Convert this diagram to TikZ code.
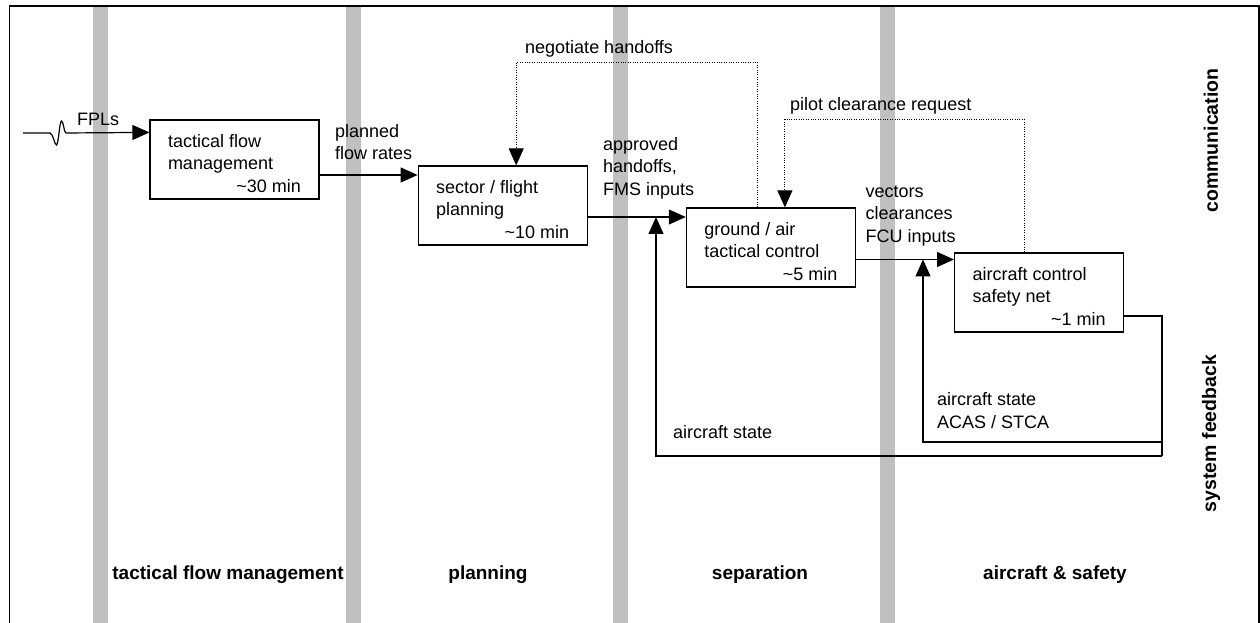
\documentclass[tikz,border=0pt]{standalone}
\usepackage{fontspec}
\setmainfont{Liberation Sans}
\usepackage{tikz}
\usetikzlibrary{arrows.meta}
\usetikzlibrary{calc}
\usetikzlibrary{positioning}

\definecolor{lanegray}{RGB}{192,192,192}
\newcommand{\boxtext}[3]{\parbox[c][79pt][t]{133pt}{\rule{0pt}{27.3pt}#1\\#2\\\hspace*{\fill}\textasciitilde#3 min}}

\begin{document}
\begin{tikzpicture}[x=1pt,y=1pt,
	stage/.style={draw,line width=1.2pt,inner sep=0pt,minimum width=169pt,minimum height=79pt,font=\fontsize{18}{22.7}\selectfont},
	note/.style={font=\fontsize{18}{22.7}\selectfont,align=left,inner sep=0pt},
	flow/.style={line width=1.2pt,-{Triangle[length=17pt,width=15pt]}},
	talk/.style={line width=0.9pt,dash pattern=on 1pt off 1.4pt,-{Triangle[length=17pt,width=15pt]}},
	lane/.style={font=\fontsize{19}{22}\selectfont\bfseries,inner sep=0pt},
	side/.style={font=\fontsize{19.5}{22}\selectfont\bfseries,rotate=90,inner sep=0pt}]
			\useasboundingbox (0,0) rectangle (1260,623);
			%gray lanes and frame
			\foreach \x in {100.5,353.5,620.5,887.5}
				\fill[lanegray] (\x-7.5,0) rectangle (\x+7.5,617);
			\draw[line width=1.4pt] (9.5,0) |- (1259,617) -- (1259,0);
			%stages
			\node[stage] (tfm) at (234.5,463.5) {\boxtext{tactical flow}{management}{30}};
			\node[stage,right=98pt of tfm,yshift=-46pt] (sector) {\boxtext{sector / flight}{planning}{10}};
			\node[stage,right=98pt of sector,yshift=-42pt] (ground) {\boxtext{ground / air}{tactical control}{5}};
			\node[stage,right=98pt of ground,yshift=-45pt] (aircraft) {\boxtext{aircraft control}{safety net}{1}};
			%forward flow
			\coordinate (fplsrc) at (23,490);
			\coordinate (fplin) at ([yshift=-13pt]tfm.north west);
			\draw[flow] (fplsrc) -- (50,490) .. controls (53,490) and (54.5,478) .. (56.5,478)
				.. controls (58.5,478) and (59.5,502) .. (61.5,502)
				.. controls (63.5,502) and (64,490) .. (66,490) -- (fplin);
			\node[note,anchor=base west] (fpls) at (77,497) {FPLs};
			\coordinate (tfmout) at ([yshift=-15.5pt]tfm.east);
			\draw[flow] (tfmout) -- (sector.west |- tfmout);
			\node[note,anchor=base west] (rates) at (335,463) {planned\\flow rates};
			\coordinate (sectout) at ([yshift=-11.5pt]sector.east);
			\draw[flow] (sectout) -- (ground.west |- sectout);
			\node[note,anchor=base west] (handoffs) at (603,427.3) {approved\\handoffs,\\FMS inputs};
			\coordinate (grndout) at ([yshift=-12pt]ground.east);
			\draw[flow] (grndout) -- (aircraft.west |- grndout);
			\node[note,anchor=base west] (vectors) at (865.5,380.3) {vectors\\clearances\\FCU inputs};
			%communication loops
			\draw[talk] ([xshift=-13.5pt]ground.north) -- ++(0,145) -| ([xshift=13.5pt]sector.north);
			\node[note,anchor=base west] (negotiate) at (525,569) {negotiate handoffs};
			\draw[talk] ([xshift=-15pt]aircraft.north) -- ++(0,133) -| ([xshift=14pt]ground.north);
			\node[note,anchor=base west] (pilotreq) at (790,512.3) {pilot clearance request};
			%system feedback
			\coordinate (acout) at ([yshift=-23.5pt]aircraft.east);
			\coordinate (fbcorner) at (1162,167);
			\coordinate (fbtap) at (1162,181);
			\coordinate (tapsep) at (sectout -| 656,0);
			\coordinate (tapac) at (grndout -| 923,0);
			\draw[line width=1.2pt] (acout) -| (fbcorner);
			\draw[flow] (fbcorner) -| (tapsep);
			\draw[flow] (fbtap) -| (tapac);
			\node[note,anchor=base west] (fbstate) at (673,184) {aircraft state};
			\node[note,anchor=base west] (acstate) at (937,194.7) {aircraft state\\ACAS / STCA};
			%lane names
			\node[lane] (lanetfm) at (228,48) {tactical flow management};
			\node[lane] (laneplan) at (488,48) {planning};
			\node[lane] (lanesep) at (760,48) {separation};
			\node[lane] (laneac) at (1055,48) {aircraft \& safety};
			\node[side] (comm) at (1211,482.5) {communication};
			\node[side] (sysfb) at (1211,189.5) {system feedback};
		\end{tikzpicture}
\end{document}
